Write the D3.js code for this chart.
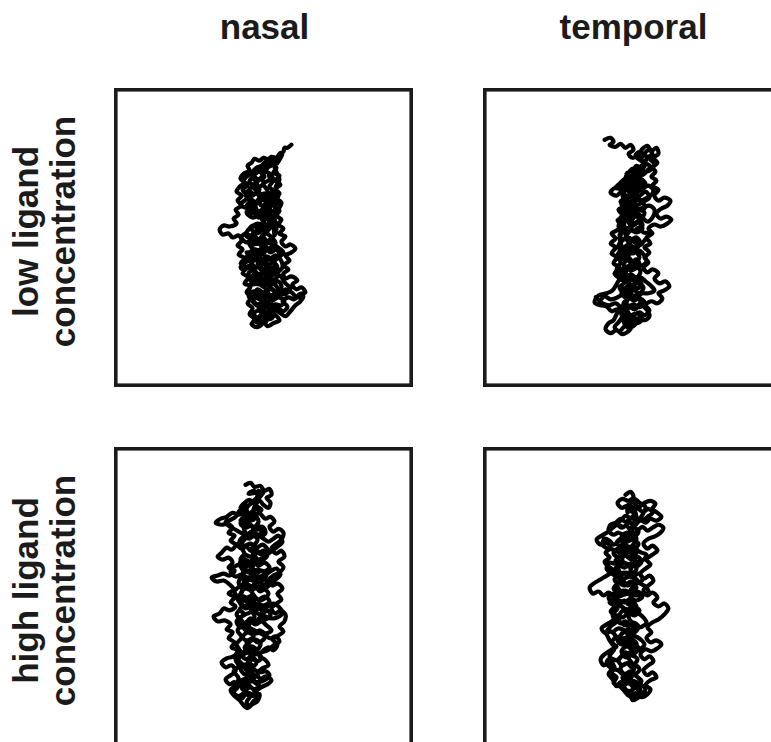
<!DOCTYPE html>
<html lang="en">
<head>
    <meta charset="UTF-8">
    <title>Random walk trajectories</title>
    <script src="https://d3js.org/d3.v7.min.js"></script>
    <style>
        html, body {
            margin: 0;
            padding: 0;
            background: #ffffff;
            overflow: hidden;
        }
        svg {
            display: block;
            font-family: "Liberation Sans", Arial, Helvetica, sans-serif;
        }
    </style>
</head>
<body>
    <svg id="chart" width="771" height="742"></svg>

    <script>
        // column and row headings
        const columns = ["nasal", "temporal"];
        const rows = [["low ligand", "concentration"], ["high ligand", "concentration"]];

        // traced trajectories, in field units (0..300 across each square field)
        const low_nasal = [
            [178,57],[174,60],[171,60],[170,64],[166,66],[163,70],[158,69],[155,72],[150,70],[146,73],[141,71],[138,75],[134,78],[136,83],[130,86],[127,91],[131,95],[126,99],[123,104],[128,108],[124,113],[128,118],[122,122],[125,127],[120,131],[123,136],[116,139],[110,138],[106,142],[109,147],[115,146],[119,150],[125,148],[128,153],[124,158],[129,162],[125,167],[131,171],[127,176],[133,180],[129,186],[135,190],[131,196],[137,199],[133,205],[138,210],[134,216],[139,221],[136,227],[141,232],[138,237],[144,240],[149,236],[147,231],[152,228],[156,232],[160,229],
            [158,224],[164,221],[170,224],[174,219],[169,214],[175,210],[181,212],[186,207],[192,205],[188,200],[183,202],[179,197],[184,193],[178,189],[172,191],[170,186],[175,182],[170,178],[176,173],[172,168],[178,165],[182,161],[177,157],[172,159],[168,154],[172,149],[166,146],[170,141],[165,137],[168,132],[163,128],[166,123],[161,119],[165,114],[160,110],[166,106],[162,101],[167,97],[162,93],[166,88],[160,85],[163,80],[158,77],
            [152,80],[147,84],[151,89],[145,92],[140,89],[136,94],[141,98],[146,102],[140,106],[135,103],[132,108],[138,112],[144,115],[150,112],[155,116],[150,121],[144,124],[138,121],[133,125],[139,130],[146,128],[152,132],[158,129],[156,135],[150,138],[144,136],[138,141],[143,146],[149,143],[155,147],[160,152],[154,156],[147,153],[141,157],[135,154],[138,160],[144,163],[151,160],[157,165],[163,162],[166,168],[160,172],[153,169],[147,173],[141,170],[138,176],[144,180],[150,177],[157,181],[163,178],[160,185],[154,189],[148,186],[142,190],[146,195],[152,193],[158,197],[165,194],[168,200],[162,204],[156,201],[150,205],[144,202],[141,208],[147,212],[153,209],[159,213],[165,210],[171,213],[168,218],
            [162,217],[156,220],[150,217],[145,222],[150,226],[156,224],[162,228],[166,233],[160,236],[154,239],[150,234],[144,231],[140,226],[146,222],[150,212],[155,206],[148,198],[142,196],[137,191],[142,185],[136,181],[140,172],[134,167],[140,163],[147,167],[153,162],[148,149],[154,143],[148,131],[142,118],[148,108],[154,104],[150,96],[156,92],[155,85],[160,92],[156,99],[160,104],[155,110],[157,120],[152,126],[160,140],[161,148],
            [163,140],[160,132],[164,124],[161,116],[165,108],[162,100],[166,92],[163,84],[160,77],
            [157,70],[152,74],[148,78],[143,80],[139,84],[134,88],[130,93],[134,97],[129,102],[133,106],[137,109],[131,113],[127,117],[132,120],[137,118],[142,122],[147,125],[152,122],[158,124],[162,121],[160,116],[155,113],[159,108],[163,111],[168,115],[166,120],[162,126],[158,134],[153,140],[147,140],[142,144],[137,148],[132,146],[128,150],[133,155],[138,152],[143,156],[149,157],[155,161],[160,158],[166,161],[170,165],[165,170],[159,175],[155,178],[150,182],[145,178],[140,182],[135,186],[138,192],[143,189],[149,192],[155,190],[161,192],[166,188],[172,196],[177,201],[173,206],[166,207],[160,210],[155,214],[149,219],[143,218],[138,213],[135,208],[140,204],[145,207],[150,210],[156,228],[151,232],[146,236],[142,234],[147,228],[153,220],[161,222],[167,226],[172,229],[177,224],[182,218],[187,214],[190,209],[184,210],[178,205],[172,202],[168,206],[163,199],[157,193],[152,198],[147,190],[141,183],[136,178],[131,183],[127,180],[132,175],[137,171],[133,165],[138,166],[144,168],[150,172],[156,172],[162,168],[167,172],[169,180],[165,184],[158,188],[152,184],[147,182],[144,172],[149,164],[146,152],[152,146],[157,140],[162,134],[158,128],[154,120],[150,110],[145,104],[140,100],[144,94],[149,88],[153,82],[158,74],[163,76],[166,72],[169,67],
            [165,72],[160,75],[156,79],[153,76],[149,79],[146,83],[142,86],[139,90],[143,93],[147,91],[150,95],[146,99],[142,96],[138,99],[135,104],[139,108],[143,105],[146,109],[150,106],[154,109],[157,105],[161,108],[158,113],[153,116],[148,118],[144,114],[140,117],[136,115],[133,119],[136,124],[141,126],[145,130],[149,127],[153,131],[156,127],[160,131],[157,137],[152,139],[148,136],[144,140],[139,138],[135,142],[132,147],[136,150],[141,149],[145,152],[150,150],[154,154],[158,151],[162,155],[160,160],[155,163],[150,161],[146,165],[142,162],[137,165],[133,170],[137,174],[142,172],[146,176],[151,174],[155,177],[160,175],[164,180],[160,185],[155,182],[150,186],[146,190],[141,187],[137,192],[140,197],[145,195],[149,199],[154,197],[158,201],[162,205],[157,208],[152,206],[148,210],[143,208],[140,213],[144,217],[149,215],[153,219],[158,217],[162,221],[159,226],[154,229],[149,227],[145,231],[148,236],[153,234]
        ];

        const low_temporal = [
            [122,52],[128,50],[131,54],[127,57],[133,59],[138,56],[143,60],[148,57],[151,62],[146,66],[150,70],[156,67],[160,61],[165,58],[169,63],[174,60],[176,66],[171,70],[175,75],[169,79],[164,76],[160,81],[154,78],[150,83],[144,86],[147,91],[141,95],[137,99],[131,101],[128,105],[134,108],[139,104],[143,109],[138,114],[142,119],[136,122],[140,128],[135,133],[140,138],[134,143],[129,146],[133,151],[128,156],[133,160],[129,166],[134,170],[131,176],[137,180],[132,186],[137,191],[142,195],[137,200],[140,206],[135,210],[128,212],[122,209],[117,213],[113,210],[120,216],[127,218],[133,216],[138,221],[134,227],[131,233],[126,236],[123,242],[128,246],[134,243],[140,247],[146,244],[150,239],
            [155,234],[151,229],[157,225],[162,228],[167,223],[163,218],[169,214],[175,216],[180,211],[176,206],[182,203],[187,199],[183,194],[177,196],[172,191],[176,186],[170,182],[165,185],[161,180],[166,175],[162,170],[167,165],[162,160],[168,156],[164,150],[170,146],[166,141],[172,137],[178,139],[185,136],[189,132],[184,129],[178,131],[174,126],[179,121],[185,118],[188,113],[182,110],[176,113],[172,108],[176,102],[170,98],[174,93],[169,89],[173,84],[168,80],
            [162,86],[157,90],[161,95],[155,99],[150,96],[146,101],[151,105],[157,108],[163,104],[167,110],[161,114],[155,117],[149,114],[145,119],[150,124],[156,121],[162,125],[158,131],[152,128],[146,132],[150,138],[156,135],[160,141],[154,145],[148,142],[143,147],[148,152],[154,150],[158,156],[152,160],[146,157],[141,162],[146,167],[152,164],[157,170],[152,175],[146,172],[141,177],[147,182],[153,179],[158,184],[154,190],[148,187],[144,193],[149,198],[155,196],[161,200],[157,206],[151,203],[146,208],[151,213],[157,211],[162,215],[157,220],[151,217],[145,222],[148,228],[154,226],[160,231],[155,236],[148,233],[142,237],[146,241],
            [140,232],[144,225],[140,219],[145,213],[142,203],[147,195],[143,186],[148,176],[142,168],[148,158],[143,150],[149,140],[144,131],[150,120],[145,112],[151,104],[156,95],[152,88],[157,80],[162,74],[157,70],
            [163,68],[168,72],[172,77],[167,83],[161,84],[156,82],[151,87],[146,90],[141,92],[137,96],[133,100],[138,101],[144,98],[150,101],[155,104],[160,101],[166,98],[171,103],[168,108],[163,111],[158,113],[152,110],[147,107],[142,112],[139,117],[144,121],[149,118],[155,122],[161,120],[167,118],[172,122],[170,130],[165,134],[160,130],[155,126],[150,131],[144,129],[139,133],[136,139],[141,144],[146,140],[151,144],[156,140],[161,145],[166,146],[162,153],[157,158],[151,154],[146,150],[140,153],[136,158],[139,164],[144,160],[150,166],[156,163],[161,167],[164,174],[159,178],[153,174],[148,178],[142,180],[137,186],[141,190],[146,188],[152,192],[158,190],[163,194],[168,198],[172,203],[166,206],[160,206],[155,209],[150,208],[145,212],[141,216],[146,218],[152,222],[158,218],[163,221],[167,229],[162,233],[157,232],[152,236],[146,236],[141,240],[137,244],[132,240],[136,235],[140,228],[135,222],[129,224],[124,219],[118,218],[112,215],[116,208],[124,206],[130,203],[134,197],[138,188],[134,182],[138,175],[135,168],[139,160],[137,150],[142,140],[139,128],[144,116],[140,108],[146,97],[151,90],[156,86],[161,78],[165,70],[170,66],[166,62],[161,66],
            [157,64],[153,68],[157,72],[161,75],[158,80],[154,84],[150,81],[146,85],[143,90],[147,93],[151,91],[155,95],[159,92],[163,96],[160,101],[155,103],[151,100],[147,104],[143,102],[140,107],[143,111],[148,110],[152,114],[156,111],[160,115],[163,119],[159,123],[154,121],[150,125],[146,122],[142,126],[139,131],[143,134],[148,132],[152,136],[156,133],[160,137],[157,142],[152,144],[148,141],[144,145],[140,143],[137,148],[141,152],[145,150],[149,154],[153,152],[157,156],[154,161],[149,163],[145,160],[141,164],[138,169],[142,172],[146,170],[150,174],[154,172],[157,177],[153,181],[148,183],[144,180],[140,184],[143,189],[148,190],[152,194],[156,192],[159,197],[155,201],[150,199],[146,203],[142,201],[139,206],[143,210],[147,208],[151,212],[155,210],[158,215],[154,219],[149,221],[145,218],[141,222],[139,228],[143,231],[147,229],[151,233],[155,231],[152,238],[147,240],[143,237]
        ];

        const high_nasal = [
            [132,38],[137,36],[141,40],[147,39],[151,44],[156,42],[158,48],[153,51],[157,56],[155,61],[150,58],[146,54],[141,57],[136,53],[131,56],[127,61],[131,65],[125,68],[119,66],[113,70],[107,72],[102,76],[108,78],[114,77],[119,81],[115,86],[121,89],[117,94],[122,98],[118,103],[113,101],[108,106],[104,110],[109,113],[115,111],[119,116],[115,121],[121,124],[116,129],[110,127],[104,129],[98,131],[103,135],[110,134],[116,138],[120,143],[115,147],[121,151],[117,156],[122,160],[116,164],[110,162],[106,167],[100,170],[104,175],[111,174],[117,178],[113,183],[119,186],[115,192],[121,196],[118,201],[124,204],[120,210],[113,212],[108,216],[112,221],[118,219],[122,225],[117,229],[112,233],[116,238],[121,236],[124,241],[120,246],[125,250],[131,247],[136,251],[133,256],[136,260],
            [140,255],[145,251],[143,245],[148,241],[154,238],[158,234],[152,230],[147,233],[144,227],[149,222],[155,219],[151,213],[146,210],[150,204],[155,201],[160,204],[164,198],[159,193],[165,189],[170,185],[166,180],[171,175],[172,168],[167,164],[162,167],[158,162],[163,157],[168,153],[164,147],[169,142],[164,137],[159,139],[155,134],[160,129],[166,126],[170,120],[165,115],[171,110],[168,104],[163,107],[158,102],[163,97],[168,93],[170,86],[165,82],[160,85],[156,80],[161,75],[157,70],[152,72],[147,67],[143,62],
            [138,66],[142,71],[136,74],[131,72],[127,77],[132,81],[138,79],[144,83],[149,80],[152,86],[147,90],[141,88],[136,92],[130,90],[126,95],[131,99],[137,97],[143,101],[149,98],[154,103],[149,108],[143,106],[137,110],[131,108],[127,113],[133,117],[139,115],[145,119],[151,116],[156,121],[150,125],[144,123],[138,127],[132,125],[127,130],[133,134],[139,132],[145,136],[151,133],[156,138],[150,142],[144,140],[138,144],[132,142],[127,147],[133,151],[139,149],[145,153],[151,150],[156,155],[150,159],[144,157],[138,161],[132,159],[126,163],[131,168],[125,172],[130,177],[136,174],[142,178],[148,175],[153,179],[158,184],[152,187],[146,184],[140,188],[134,186],[129,191],[135,195],[141,193],[147,197],[144,203],[138,200],[132,204],[128,209],[133,213],[139,211],[143,216],[138,221],[132,218],[127,222],[131,228],[137,226],[141,231],[136,235],[130,233],[125,237],[129,241],[135,239],[140,243],[146,240],
            [141,236],[136,229],[140,221],[134,214],[139,206],[133,196],[140,190],[135,180],[141,170],[136,160],[142,152],[137,143],[143,134],[137,124],[143,113],[138,103],[144,93],[139,84],[145,75],[140,63],[146,50],[140,44],[135,47],
            [150,45],[146,50],[141,53],[136,58],[131,60],[126,64],[122,70],[117,73],[112,75],[116,80],[122,83],[127,86],[133,88],[138,85],[144,88],[150,92],[155,95],[160,92],[165,89],[169,95],[164,100],[159,104],[153,108],[148,112],[142,114],[137,118],[131,120],[126,118],[121,120],[117,125],[122,130],[128,128],[134,131],[140,129],[146,130],[152,128],[158,124],[163,122],[167,128],[162,133],[156,136],[150,138],[144,142],[138,140],[132,137],[126,140],[121,145],[125,151],[131,154],[136,156],[142,160],[148,162],[154,160],[160,157],[165,160],[169,166],[164,171],[158,172],[152,170],[146,168],[140,165],[134,167],[128,170],[123,175],[127,181],[133,180],[139,183],[145,186],[151,189],[157,192],[162,190],[166,195],[160,199],[154,204],[148,206],[142,208],[136,206],[130,208],[125,213],[129,218],[135,222],[141,224],[147,226],[152,225],[156,229],[151,234],[145,236],[139,235],[133,237],[128,240],[131,245],[136,247],[141,250],[146,248],[144,255],[139,258],[134,262],[129,258],[126,254],[121,250],[117,244],[121,240],[125,232],[120,225],[125,220],[122,213],[127,206],[123,198],[128,191],[124,184],[129,176],[123,168],[128,160],[124,152],[129,144],[125,136],[130,126],[126,117],[131,108],[127,98],[133,90],[130,80],[136,70],[133,62],[138,56],[143,52],[145,44],
            [148,48],[144,52],[140,56],[144,60],[148,63],[144,67],[139,70],[135,67],[131,70],[127,74],[131,78],[136,77],[140,81],[145,79],[149,83],[146,88],[141,90],[137,87],[132,90],[128,94],[124,98],[128,102],[133,100],[137,104],[142,102],[146,106],[150,104],[154,108],[150,113],[145,115],[141,112],[136,115],[131,113],[127,117],[130,122],[135,124],[139,122],[144,126],[148,124],[153,128],[149,133],[144,131],[139,134],[134,132],[130,136],[133,141],[138,143],[142,141],[147,145],[151,143],[155,147],[151,152],[146,154],[141,151],[136,154],[131,152],[128,157],[132,162],[137,160],[141,164],[146,162],[150,166],[154,164],[157,169],[152,173],[147,171],[142,175],[137,172],[133,176],[130,181],[134,185],[139,183],[143,187],[148,185],[152,189],[149,194],[144,196],[139,193],[135,197],[131,201],[135,205],[140,203],[144,207],[148,211],[144,215],[139,213],[135,217],[131,221],[135,225],[140,223],[144,227],[140,232],[135,230],[131,234],[128,239],[132,243],[137,241],[141,245],[138,250],[133,248],[129,252]
        ];

        const high_temporal = [
            [143,48],[148,45],[151,50],[146,54],[140,52],[135,56],[139,61],[145,59],[151,63],[157,60],[162,56],[168,54],[173,57],[170,62],[175,66],[179,70],[174,74],[168,72],[163,76],[158,73],[153,78],[147,76],[141,80],[135,78],[129,82],[124,86],[119,89],[114,93],[118,98],[124,96],[128,101],[123,106],[127,111],[122,115],[126,120],[131,124],[126,128],[121,131],[116,134],[111,137],[107,141],[110,147],[116,145],[121,149],[126,146],[131,151],[127,156],[132,160],[128,165],[133,170],[129,175],[124,178],[119,182],[123,187],[128,185],[133,190],[129,196],[134,200],[128,204],[122,208],[118,213],[121,219],[127,216],[132,221],[129,227],[134,231],[131,237],[137,240],[142,245],[147,250],[153,247],[159,251],[165,248],[168,243],
            [163,239],[168,234],[174,231],[170,226],[165,229],[161,224],[166,219],[171,215],[167,210],[162,213],[158,208],[163,203],[169,205],[175,202],[179,198],[174,194],[168,196],[164,191],[169,186],[165,181],[170,176],[176,173],[182,168],[186,162],[182,157],[176,160],[171,156],[175,151],[170,146],[165,149],[161,144],[166,139],[171,134],[167,129],[162,132],[158,127],[163,122],[168,118],[164,113],[170,108],[175,104],[170,99],[165,102],[161,97],[166,92],[172,90],[178,86],[181,81],[176,78],[170,81],[165,84],[160,80],
            [155,84],[150,88],[144,86],[139,90],[144,95],[150,93],[156,97],[152,102],[146,100],[140,104],[135,102],[131,107],[137,111],[143,109],[149,113],[155,110],[159,115],[154,120],[148,117],[142,121],[136,119],[132,124],[138,128],[144,126],[150,130],[156,127],[160,133],[154,137],[148,135],[142,139],[136,137],[131,142],[137,146],[143,144],[149,148],[155,145],[160,150],[154,154],[148,152],[142,156],[136,154],[139,160],[145,163],[151,160],[157,164],[152,169],[146,167],[140,171],[134,169],[138,176],[144,179],[150,176],[156,180],[152,186],[146,183],[140,187],[136,193],[142,196],[148,193],[154,197],[150,203],[144,200],[139,205],[143,211],[149,209],[155,213],[150,219],[144,217],[138,222],[142,228],[148,225],[154,230],[159,235],[153,239],[147,236],[141,241],[147,245],[153,242],[158,246],
            [153,240],[148,231],[152,221],[146,211],[151,200],[145,190],[151,180],[146,170],[152,158],[147,146],[153,136],[148,124],[153,113],[148,103],[154,92],[149,82],[154,70],[149,60],[145,66],
            [146,58],[151,56],[156,62],[161,65],[166,62],[170,66],[165,70],[160,74],[154,72],[148,72],[143,75],[138,72],[133,76],[128,78],[126,84],[131,88],[136,86],[141,90],[136,95],[131,98],[127,94],[122,92],[120,98],[125,102],[131,103],[137,106],[143,104],[149,106],[154,104],[159,106],[164,108],[160,114],[154,116],[148,118],[142,116],[137,114],[132,117],[127,116],[124,122],[129,127],[135,130],[141,132],[147,130],[153,132],[158,137],[163,140],[166,146],[160,148],[154,149],[148,147],[142,148],[136,150],[131,147],[126,151],[130,156],[136,158],[142,162],[148,165],[154,166],[160,170],[164,176],[160,180],[154,182],[148,186],[142,184],[136,182],[131,186],[135,191],[141,192],[147,190],[153,190],[158,193],[162,198],[157,203],[151,205],[145,207],[139,210],[134,214],[128,212],[124,216],[129,222],[135,224],[140,228],[146,233],[152,235],[158,238],[163,243],[160,248],[155,252],[150,254],[148,247],[143,243],[138,236],[134,240],[130,233],[126,228],[131,220],[127,210],[132,202],[127,194],[124,186],[128,180],[133,176],[130,168],[135,162],[132,154],[138,146],[134,138],[139,130],[135,120],[140,112],[136,104],[141,96],[146,88],[151,80],[156,74],[160,68],[163,60],[157,56],[152,52],
            [148,56],[144,60],[148,64],[152,67],[148,71],[143,69],[139,73],[135,77],[139,81],[144,79],[148,83],[152,81],[156,85],[152,90],[147,92],[143,89],[138,92],[134,96],[138,100],[143,98],[147,102],[151,100],[155,104],[151,108],[146,110],[142,107],[137,110],[133,114],[137,118],[142,116],[146,120],[150,118],[154,122],[150,127],[145,129],[141,126],[136,129],[132,133],[136,137],[141,135],[145,139],[150,137],[154,141],[150,145],[145,147],[141,144],[136,147],[133,152],[137,156],[142,154],[146,158],[150,156],[154,160],[150,165],[145,167],[141,164],[137,168],[134,173],[138,177],[143,175],[147,179],[151,177],[155,181],[151,186],[146,188],[142,185],[138,189],[135,194],[139,198],[144,196],[148,200],[152,198],[156,202],[152,207],[147,209],[143,206],[139,210],[136,215],[140,219],[145,217],[149,221],[153,219],[157,223],[153,228],[148,230],[144,227],[140,231],[143,236],[148,238],[152,242],[156,240],[158,246],[153,249],[148,251]
        ];

        const tracks = [[low_nasal, low_temporal], [high_nasal, high_temporal]];

        const svg = d3.select("#chart");

        const field_size = 299;
        const col_left = [114, 483];
        const row_top = [88, 447];
        const border = 3.6;
        const ink = "#1b1b1b";

        const x = d3.scaleLinear().domain([0, 300]).range([0, field_size]);
        const y = d3.scaleLinear().domain([0, 300]).range([0, field_size]);

        const line = d3.line()
            .x(d => x(d[0]))
            .y(d => y(d[1]))
            .curve(d3.curveCatmullRom.alpha(0.5));

        // column titles
        svg.append("g")
            .selectAll("text")
            .data(columns)
            .enter().append("text")
            .attr("x", (d, i) => col_left[i] + field_size / 2 + 1)
            .attr("y", 39)
            .attr("text-anchor", "middle")
            .attr("font-size", "35px")
            .attr("font-weight", "bold")
            .attr("fill", ink)
            .text(d => d);

        // row titles, rotated, two lines each
        const row_label = svg.append("g")
            .selectAll("g")
            .data(rows)
            .enter().append("g")
            .attr("transform", (d, i) => `translate(0,${row_top[i] + field_size / 2 - 6}) rotate(-90)`);

        row_label.selectAll("text")
            .data(d => d)
            .enter().append("text")
            .attr("x", 0)
            .attr("y", (d, j) => 38 + j * 37)
            .attr("text-anchor", "middle")
            .attr("font-size", "35px")
            .attr("font-weight", "bold")
            .attr("fill", ink)
            .text(d => d);

        // panels
        rows.forEach((r, ri) => {
            columns.forEach((c, ci) => {
                const g = svg.append("g")
                    .attr("transform", `translate(${col_left[ci]},${row_top[ri]})`);

                g.append("rect")
                    .attr("x", border / 2)
                    .attr("y", border / 2)
                    .attr("width", field_size - border)
                    .attr("height", field_size - border)
                    .attr("fill", "none")
                    .attr("stroke", ink)
                    .attr("stroke-width", border);

                g.append("path")
                    .datum(tracks[ri][ci])
                    .attr("d", line)
                    .attr("fill", "none")
                    .attr("stroke", "#000")
                    .attr("stroke-width", 4.2)
                    .attr("stroke-linejoin", "round")
                    .attr("stroke-linecap", "round");
            });
        });
    </script>
</body>
</html>
